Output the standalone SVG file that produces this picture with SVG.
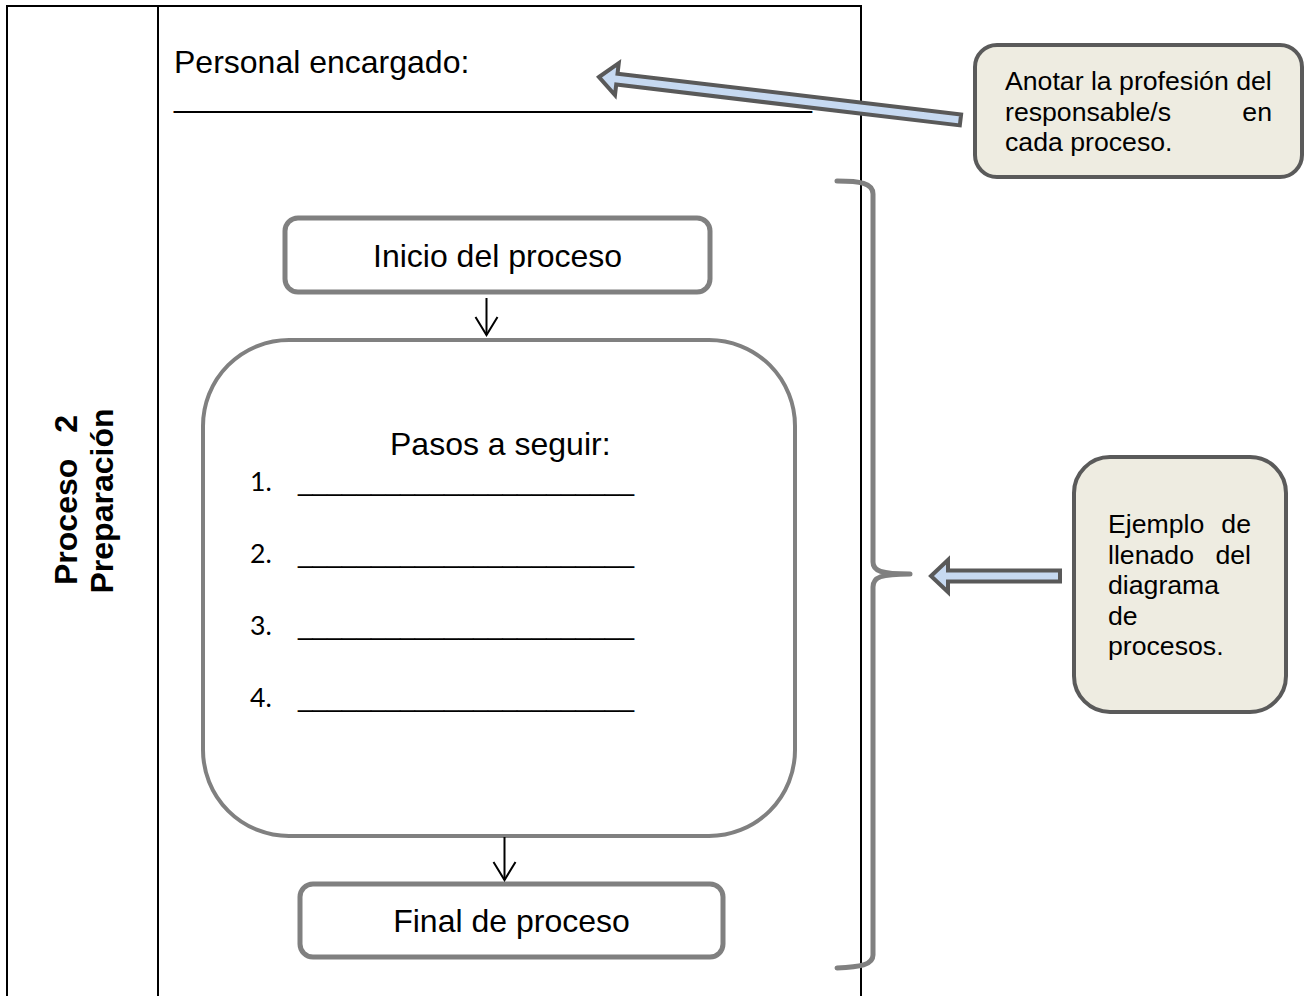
<svg xmlns="http://www.w3.org/2000/svg" width="1308" height="996" viewBox="0 0 1308 996">
  <defs>
    <style>
      .grid { fill: none; stroke: #000; stroke-width: 2; }
      .box { fill: #fff; stroke: #808080; stroke-width: 5; }
      .big { fill: #fff; stroke: #808080; stroke-width: 4; }
      .note { fill: #EEECE1; stroke: #5a5a5a; stroke-width: 4; }
      .block { fill: #C6D9F1; stroke: #595959; stroke-width: 4; stroke-linejoin: miter; }
      .brace { fill: none; stroke: #808080; stroke-width: 5; stroke-linecap: round; stroke-linejoin: round; }
      .flow { fill: none; stroke: #000; stroke-width: 2; }
      .t32 { font-family: "Liberation Sans", Arial, sans-serif; font-size: 32px; fill: #000; }
      .t27 { font-family: "Liberation Sans", Arial, sans-serif; font-size: 26.67px; fill: #000; }
      .side { font-family: "Liberation Sans", Arial, sans-serif; font-size: 32px; font-weight: bold; fill: #000; }
      .num { font-family: Lato, "Open Sans", sans-serif; font-size: 26.67px; fill: #000; }
      .end { text-anchor: end; }
    </style>
    <marker id="openHead" markerUnits="userSpaceOnUse" viewBox="-20 -13 22 26" refX="0" refY="0" markerWidth="22" markerHeight="26" orient="auto">
      <path d="M -18,-11 L 0,0 L -18,11" fill="none" stroke="#000" stroke-width="2" stroke-linejoin="miter"/>
    </marker>
  </defs>

  <!-- table frame -->
  <g id="frame">
    <path class="grid" d="M 7,996 L 7,6 L 861,6 L 861,996 M 158,6 L 158,996"/>
  </g>

  <!-- rotated row header -->
  <g id="row-header">
    <text class="side" text-anchor="middle" word-spacing="17" transform="translate(77,500) rotate(-90)">Proceso 2</text>
    <text class="side" text-anchor="middle" transform="translate(113,501) rotate(-90)">Preparación</text>
  </g>

  <!-- staff line -->
  <g id="staff">
    <text class="t32" x="174" y="73">Personal encargado:</text>
    <text class="t32" x="174" y="107" textLength="638" lengthAdjust="spacingAndGlyphs">____________________________________</text>
  </g>

  <!-- flow nodes -->
  <g id="start">
    <rect class="box" x="285" y="218" width="425" height="74" rx="13"/>
    <text class="t32" x="497.5" y="267" text-anchor="middle">Inicio del proceso</text>
  </g>

  <g id="steps">
    <rect class="big" x="203" y="340" width="592" height="496" rx="86"/>
    <text class="t32" x="390" y="455">Pasos a seguir:</text>
    <text class="num" x="250" y="491">1.</text>
    <text class="t27" x="298" y="491" textLength="336" lengthAdjust="spacingAndGlyphs">_______________________</text>
    <text class="num" x="250" y="563">2.</text>
    <text class="t27" x="298" y="563" textLength="336" lengthAdjust="spacingAndGlyphs">_______________________</text>
    <text class="num" x="250" y="635">3.</text>
    <text class="t27" x="298" y="635" textLength="336" lengthAdjust="spacingAndGlyphs">_______________________</text>
    <text class="num" x="250" y="707">4.</text>
    <text class="t27" x="298" y="707" textLength="336" lengthAdjust="spacingAndGlyphs">_______________________</text>
  </g>

  <g id="end">
    <rect class="box" x="300" y="884" width="423" height="73" rx="13"/>
    <text class="t32" x="511.5" y="932" text-anchor="middle">Final de proceso</text>
  </g>

  <!-- callouts (justified lines: last word pinned to the right margin) -->
  <g id="note-staff">
    <rect class="note" x="975" y="45" width="327" height="132" rx="22"/>
    <text class="t27" x="1005" y="90">Anotar la profesión del</text>
    <text class="t27" x="1005" y="121">responsable/s</text>
    <text class="t27 end" x="1272" y="121">en</text>
    <text class="t27" x="1005" y="151">cada proceso.</text>
  </g>

  <g id="note-example">
    <rect class="note" x="1074" y="457" width="212" height="255" rx="36"/>
    <text class="t27" x="1108" y="533">Ejemplo</text>
    <text class="t27 end" x="1251" y="533">de</text>
    <text class="t27" x="1108" y="564">llenado</text>
    <text class="t27 end" x="1251" y="564">del</text>
    <text class="t27" x="1108" y="594">diagrama</text>
    <text class="t27" x="1108" y="625">de</text>
    <text class="t27" x="1108" y="655">procesos.</text>
  </g>

  <!-- connectors -->
  <g id="connectors">
    <path class="flow" d="M 486.5,298 L 486.5,335" marker-end="url(#openHead)"/>
    <path class="flow" d="M 504.5,837 L 504.5,880" marker-end="url(#openHead)"/>
    <path class="brace" d="M 837,181 C 860,181 873,183 873,194 L 873,562 C 873,571 881,574 910,574 C 881,574 873,577 873,587 L 873,955 C 873,965 860,967 837,968"/>
    <path class="block" transform="translate(599,77) rotate(6.77)" d="M 0,0 L 18,-16 L 18,-5.5 L 364,-5.5 L 364,5.5 L 18,5.5 L 18,16 Z"/>
    <path class="block" transform="translate(931,576)" d="M 0,0 L 17,-16 L 17,-5.5 L 129,-5.5 L 129,5.5 L 17,5.5 L 17,16 Z"/>
  </g>
</svg>
